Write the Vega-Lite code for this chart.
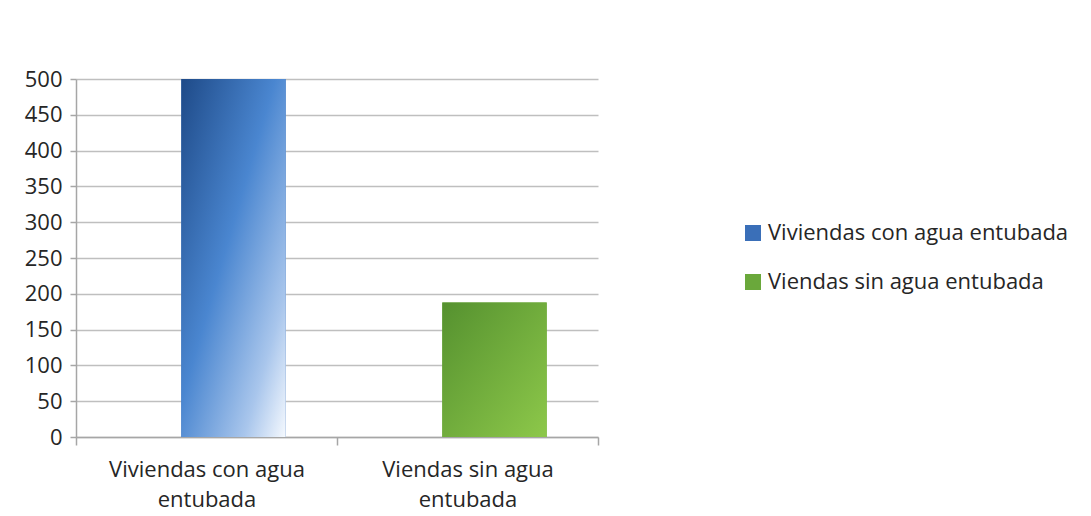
{
  "$schema": "https://vega.github.io/schema/vega-lite/v6.json",
  "autosize": "none",
  "width": 522,
  "height": 358,
  "padding": {"left": 76, "top": 79, "right": 493, "bottom": 79},
  "background": "white",
  "config": {
    "view": {"stroke": null},
    "font": "Open Sans",
    "axis": {"labelFont": "Open Sans", "labelColor": "#262626", "labelFontSize": 22, "labelLimit": 400, "domainColor": "#A6A6A6", "tickColor": "#A6A6A6", "gridColor": "#BFBFBF", "domainWidth": 1.5, "tickWidth": 1.5, "gridWidth": 1.5},
    "legend": {"labelFont": "Open Sans", "labelColor": "#262626", "labelFontSize": 22, "labelLimit": 500}
  },
  "data": {"values": [
    {"categoria": "Viviendas con agua entubada", "serie": "Viviendas con agua entubada", "valor": 500},
    {"categoria": "Viendas sin agua entubada", "serie": "Viendas sin agua entubada", "valor": 188}
  ]},
  "encoding": {
    "x": {"field": "categoria", "type": "nominal", "sort": null,
      "scale": {"paddingInner": 0, "paddingOuter": 0},
      "axis": {"title": null, "labelAngle": 0, "tickBand": "extent", "tickSize": 8, "labelPadding": 14,
        "labelLineHeight": 30, "labelExpr": "datum.label == '' ? '' : [replace(datum.label, ' entubada', ''), 'entubada']"}},
    "y": {"field": "valor", "type": "quantitative",
      "scale": {"domain": [0, 500], "nice": false},
      "axis": {"title": null, "values": [0,50,100,150,200,250,300,350,400,450,500], "grid": true, "tickSize": 6, "labelPadding": 8}}
  },
  "layer": [
    {
      "mark": {"type": "bar", "width": {"band": 0.4}, "xOffset": 27},
      "encoding": {
        "color": {"field": "serie", "type": "nominal", "sort": null,
          "scale": {"range": ["#3A6FB8", "#6AA83B"]},
          "legend": {"title": null, "orient": "none", "legendX": 666, "legendY": 143,
            "symbolType": "square", "symbolSize": 256, "symbolStrokeWidth": 0, "rowPadding": 27,
            "labelExpr": "datum.label == 'Viviendas con agua entubada' ? ' ' + datum.label : datum.label"}}
      }
    },
    {
      "transform": [{"filter": "datum.serie == 'Viviendas con agua entubada'"}],
      "mark": {"type": "bar", "width": {"band": 0.4}, "xOffset": 27,
        "color": {"gradient": "linear", "x1": 0, "y1": 0, "x2": 1, "y2": 1,
          "stops": [{"offset": 0, "color": "#1E4A88"}, {"offset": 0.45, "color": "#4A86D0"}, {"offset": 0.8, "color": "#A9C6EC"}, {"offset": 1, "color": "#F5F9FE"}]}}
    },
    {
      "transform": [{"filter": "datum.serie == 'Viendas sin agua entubada'"}],
      "mark": {"type": "bar", "width": {"band": 0.4}, "xOffset": 27,
        "color": {"gradient": "linear", "x1": 0, "y1": 0, "x2": 1, "y2": 1,
          "stops": [{"offset": 0, "color": "#55912F"}, {"offset": 1, "color": "#8DC84A"}]}}
    }
  ]
}
